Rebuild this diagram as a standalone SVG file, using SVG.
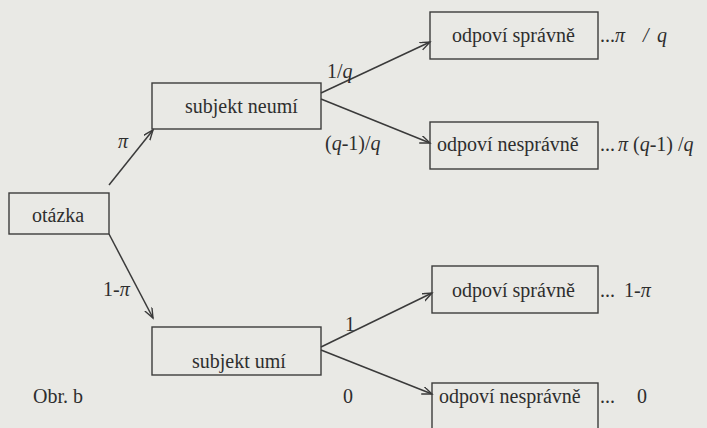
<svg xmlns="http://www.w3.org/2000/svg" width="707" height="428" viewBox="0 0 707 428" font-family="'Liberation Serif', 'DejaVu Serif', serif" font-size="20">
  <style>
    .box { fill: none; stroke: #3c3c3c; stroke-width: 1.4; }
    .edge { fill: none; stroke: #3a3a3a; stroke-width: 1.5; }
    text { font-family: "Liberation Serif", "DejaVu Serif", serif; font-size: 20px; fill: #2e2e2e; }
    .i { font-style: italic; }
  </style>
  <defs>
    <marker id="arrow" markerUnits="userSpaceOnUse" markerWidth="12" markerHeight="10" refX="10" refY="4" orient="auto">
      <path d="M0,0 L10,4 L0,8" fill="none" stroke="#3a3a3a" stroke-width="1.4"/>
    </marker>
  </defs>
  <rect width="707" height="428" fill="#e9e9e5"/>

  <!-- connectors -->
  <g id="connectors">
    <line class="edge" x1="109" y1="185" x2="153" y2="130" marker-end="url(#arrow)"/>
    <line class="edge" x1="109" y1="234" x2="153" y2="318" marker-end="url(#arrow)"/>
    <line class="edge" x1="321" y1="93" x2="430" y2="42" marker-end="url(#arrow)"/>
    <line class="edge" x1="321" y1="99" x2="430" y2="143" marker-end="url(#arrow)"/>
    <line class="edge" x1="321" y1="347" x2="432" y2="293" marker-end="url(#arrow)"/>
    <line class="edge" x1="321" y1="350" x2="432" y2="394" marker-end="url(#arrow)"/>
    <text x="118" y="148" class="i">π</text>
    <text x="103" y="296">1-<tspan class="i">π</tspan></text>
    <text x="327" y="78">1/<tspan class="i">q</tspan></text>
    <text x="325" y="150">(<tspan class="i">q</tspan>-1)/<tspan class="i">q</tspan></text>
    <text x="345" y="331">1</text>
    <text x="343" y="403">0</text>
  </g>

  <g id="otazka">
    <rect class="box" x="9" y="193" width="100" height="41"/>
    <text x="32" y="222">otázka</text>
  </g>

  <g id="subjekt-neumi">
    <rect class="box" x="152" y="83" width="169" height="46"/>
    <text x="185" y="113">subjekt neumí</text>
  </g>

  <g id="subjekt-umi">
    <rect class="box" x="152" y="327" width="169" height="48"/>
    <text x="192" y="368">subjekt umí</text>
  </g>

  <g id="neumi-spravne">
    <rect class="box" x="430" y="12" width="168" height="47"/>
    <text x="452" y="42">odpoví správně</text>
    <text x="600" y="42">...</text>
    <text x="615" y="42" class="i">π</text>
    <text x="643" y="42" class="i">/</text>
    <text x="657" y="42" class="i">q</text>
  </g>

  <g id="neumi-nespravne">
    <rect class="box" x="430" y="122" width="168" height="47"/>
    <text x="437" y="151">odpoví nesprávně</text>
    <text x="600" y="151">...</text>
    <text x="618" y="151"><tspan class="i">π</tspan> (<tspan class="i">q</tspan>-1) /<tspan class="i">q</tspan></text>
  </g>

  <g id="umi-spravne">
    <rect class="box" x="432" y="266" width="166" height="47"/>
    <text x="452" y="297">odpoví správně</text>
    <text x="600" y="297">...</text>
    <text x="624" y="297">1-<tspan class="i">π</tspan></text>
  </g>

  <g id="umi-nespravne">
    <rect class="box" x="432" y="383" width="166" height="50"/>
    <text x="439" y="403">odpoví nesprávně</text>
    <text x="600" y="403">...</text>
    <text x="637" y="403">0</text>
  </g>

  <text x="33" y="403">Obr. b</text>
</svg>
